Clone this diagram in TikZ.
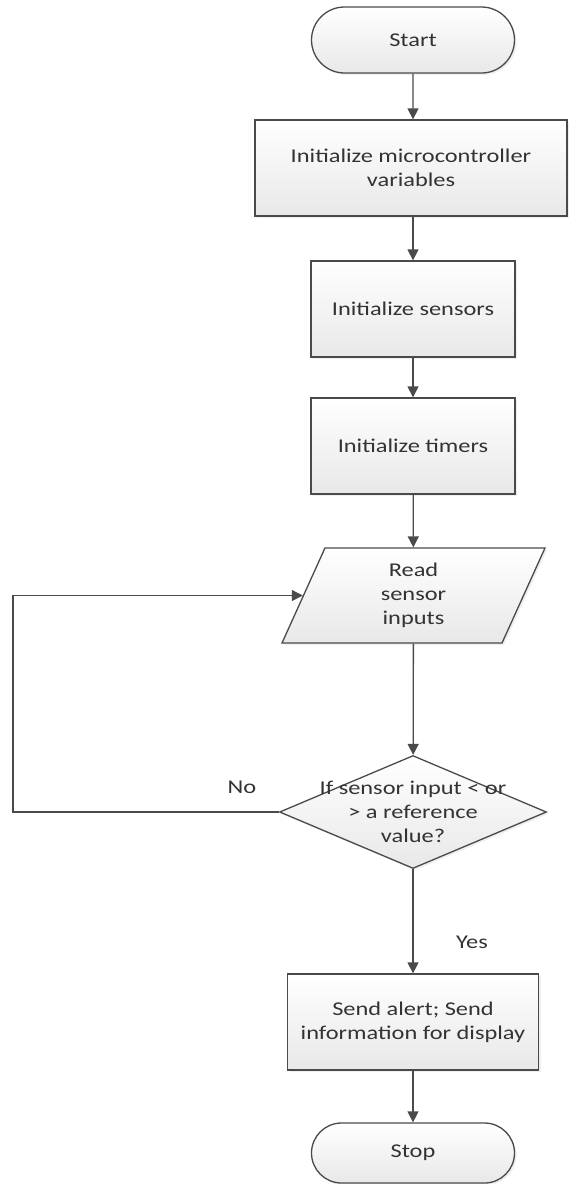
\documentclass[tikz,border=0pt]{standalone}
\usepackage{fontspec}
\setmainfont{Carlito}[FakeStretch=1.25]
\usetikzlibrary{shapes.geometric,shapes.misc,arrows.meta,shadows}
\definecolor{linec}{HTML}{4A4A4A}
\definecolor{textc}{HTML}{333333}
\begin{document}
\begin{tikzpicture}[x=1pt,y=-1pt,
  txt/.style={text=textc, font=\fontsize{19.5}{24}\selectfont, align=center},
  base/.style={txt, draw=linec, line width=1.3pt, top color=white, bottom color=black!9,
    inner sep=0pt, drop shadow={opacity=0.12,shadow xshift=2pt,shadow yshift=-2pt}},
  term/.style={base, rounded rectangle, minimum width=203pt},
  proc/.style={base, rectangle, minimum height=96pt},
  io/.style={base, trapezium, trapezium left angle=56.4, trapezium right angle=123.6,
    trapezium stretches body, minimum width=263pt, minimum height=95pt},
  dec/.style={base, diamond, minimum width=267pt, minimum height=113pt},
  arr/.style={draw=linec, line width=1.3pt, -{Triangle[length=11pt,width=11pt]}},
]
\useasboundingbox (0,0) rectangle (569,1184);
\fill[white] (0,0) rectangle (569,1184);

\node[term, minimum height=66pt] (start) at (413,40) {Start};
\node[proc, minimum width=312pt] (init1) at (411,168) {Initialize microcontroller\\variables};
\node[proc, minimum width=204pt] (init2) at (413,309) {Initialize sensors};
\node[proc, minimum width=204pt] (init3) at (413,446) {Initialize timers};
\node[io] (read) at (413.5,595.5) {Read\\sensor\\inputs};
\node[dec] (dec) at (413,812) {};
\node[txt] (dtext) at (413,812) {If sensor input < or\\> a reference\\value?};
\node[proc, minimum width=251pt] (alert) at (413,1022) {Send alert; Send\\information for display};
\node[term, minimum height=60pt] (stop) at (413,1153) {Stop};

\node[txt] (no) at (242,787) {No};
\node[txt] (yes) at (472,942) {Yes};

\coordinate (lc) at (13,812);

\draw[arr] (start) -- (start |- init1.north);
\draw[arr] (init1.south -| init2) -- (init2);
\draw[arr] (init2) -- (init3);
\draw[arr] (init3) -- (read);
\draw[arr] (read) -- (dec);
\draw[arr] (dec) -- (alert);
\draw[arr] (alert) -- (stop);
\draw[arr] (dec.west) -- (lc) |- (read.left side);
\end{tikzpicture}
\end{document}
